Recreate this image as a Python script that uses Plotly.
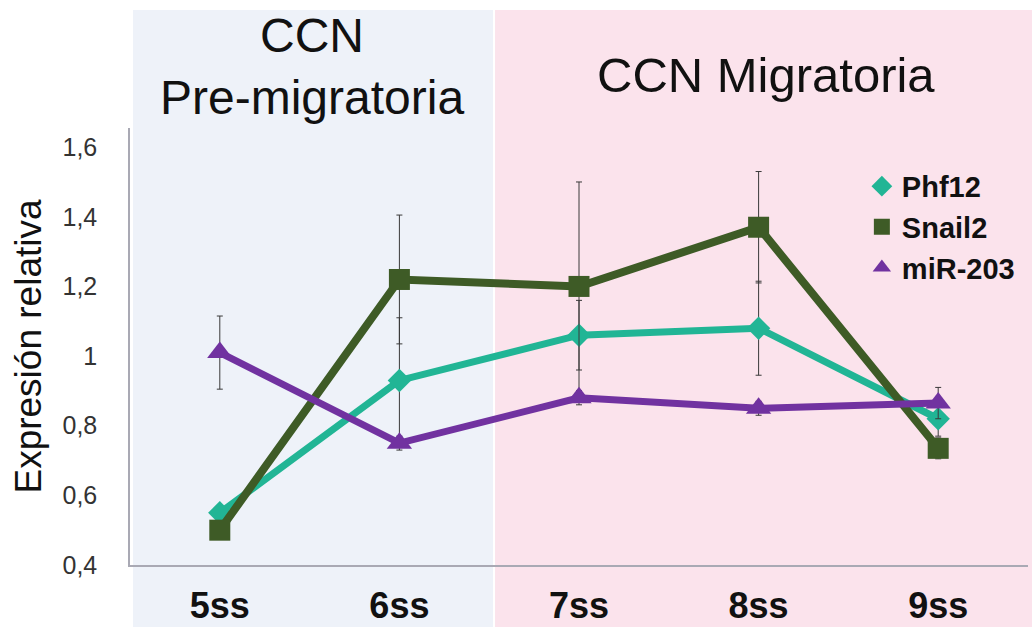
import plotly.graph_objects as go

# Stages (somite stages) and relative expression values
stages = ["5ss", "6ss", "7ss", "8ss", "9ss"]

phf12 = [0.55, 0.93, 1.06, 1.08, 0.82]
phf12_err = [0.01, 0.18, 0.10, 0.135, 0.05]

snail2 = [0.50, 1.22, 1.20, 1.37, 0.735]
snail2_err = [0.01, 0.185, 0.30, 0.16, 0.03]

mir203 = [1.01, 0.75, 0.88, 0.85, 0.865]
mir203_err = [0.105, 0.02, 0.02, 0.02, 0.045]

y_tickvals = [0.4, 0.6, 0.8, 1.0, 1.2, 1.4, 1.6]
y_ticktext = ["0,4", "0,6", "0,8", "1", "1,2", "1,4", "1,6"]

FONT = "Liberation Sans"
C_PHF = "#21B595"
C_SNAIL = "#3E5B26"
C_MIR = "#7132A0"
C_ERR = "#3a3a3a"

series = [
    ("Phf12", phf12, phf12_err, C_PHF, "diamond", 18, 7),
    ("Snail2", snail2, snail2_err, C_SNAIL, "square", 21, 8),
    ("miR-203", mir203, mir203_err, C_MIR, "triangle-up", 22, 7),
]

fig = go.Figure()
x_idx = list(range(len(stages)))

for name, vals, errs, color, symbol, msize, lw in series:
    fig.add_trace(go.Scatter(
        x=x_idx, y=vals, mode="lines+markers", name=name,
        line=dict(color=color, width=lw),
        marker=dict(symbol=symbol, size=msize, color=color),
        error_y=dict(type="data", array=errs, visible=True,
                     color=C_ERR, thickness=1, width=3),
        showlegend=False,
    ))

# Marker-only legend entries
for i, (name, vals, errs, color, symbol, msize, lw) in enumerate(series):
    fig.add_trace(go.Scatter(
        x=[None], y=[None], mode="markers", name=name,
        marker=dict(symbol=symbol, size=22, color=color),
        legendgroup=f"g{i}", showlegend=True,
    ))

# Shaded stage regions (paper coordinates)
fig.add_shape(type="rect", xref="paper", yref="paper",
              x0=0.0033, x1=0.4042, y0=-0.15, y1=1.27,
              fillcolor="#EEF2F9", line=dict(width=0), layer="below")
fig.add_shape(type="rect", xref="paper", yref="paper",
              x0=0.4065, x1=1.01, y0=-0.15, y1=1.27,
              fillcolor="#FBE3EC", line=dict(width=0), layer="below")

fig.add_annotation(text="CCN<br>Pre-migratoria", xref="paper", yref="paper",
                   x=0.2027, y=1.14, showarrow=False,
                   xanchor="center", yanchor="middle",
                   font=dict(family=FONT, size=48, color="#111111"))
fig.add_annotation(text="CCN Migratoria", xref="paper", yref="paper",
                   x=0.708, y=1.121, showarrow=False,
                   xanchor="center", yanchor="middle",
                   font=dict(family=FONT, size=49, color="#111111"))

fig.update_layout(
    width=1032, height=627,
    margin=dict(l=130, r=4, t=128, b=62),
    paper_bgcolor="white",
    plot_bgcolor="rgba(0,0,0,0)",
    font=dict(family=FONT),
    legend=dict(
        x=0.815, y=0.925, xanchor="left", yanchor="top",
        bgcolor="rgba(0,0,0,0)",
        font=dict(family=FONT, size=29, color="#111111", weight="bold"),
        itemwidth=30, tracegroupgap=0,
    ),
    xaxis=dict(
        range=[-0.5, 4.5], tickvals=x_idx, ticktext=stages,
        showgrid=False, zeroline=False, automargin=False,
        showline=True, linecolor="#a9a9b4", linewidth=1.5,
        ticks="", ticklabelstandoff=8,
        tickfont=dict(family=FONT, size=36, color="#111111", weight="bold"),
    ),
    yaxis=dict(
        range=[0.4, 1.655], tickvals=y_tickvals, ticktext=y_ticktext,
        showgrid=False, zeroline=False, automargin=False,
        showline=True, linecolor="#a9a9b4", linewidth=1.5,
        ticks="", ticklabelstandoff=26,
        tickfont=dict(family=FONT, size=25, color="#333333"),
        title=dict(text="Expresión relativa", standoff=10,
                   font=dict(family=FONT, size=37, color="#111111")),
    ),
)

fig.write_html("out.html")
